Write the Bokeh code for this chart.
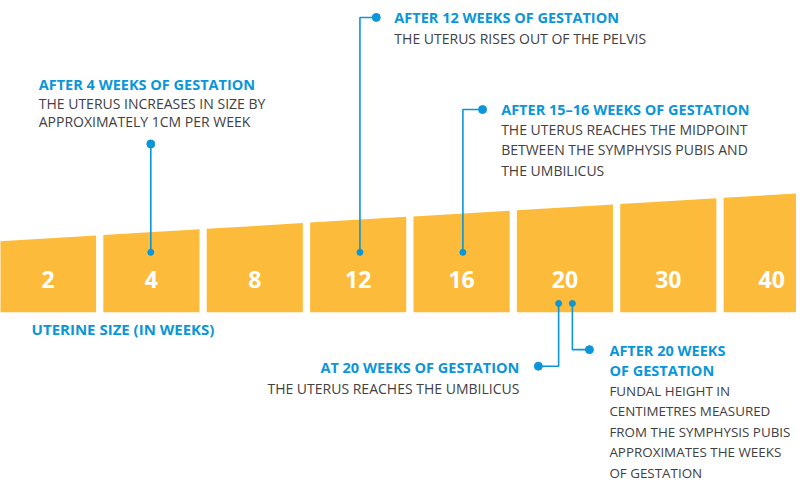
from bokeh.plotting import figure
from bokeh.models import Range1d
from bokeh.core.properties import value
from bokeh.embed import file_html
from bokeh.resources import INLINE

# ---------------- data ----------------
weeks = ["2", "4", "8", "12", "16", "20", "30", "40"]
bar_index = list(range(len(weeks)))
bar_top_left = [74.3, 80.8, 87.3, 93.8, 100.3, 106.7, 113.2, 119.7]
bar_top_right = [80.3, 86.8, 93.3, 99.8, 106.3, 112.8, 119.3, 125.8]
bar_width = 0.93
label_height = 34.3

axis_title = "UTERINE SIZE (IN WEEKS)"

ann_heads = [
    ["AFTER 4 WEEKS OF GESTATION"],
    ["AFTER 12 WEEKS OF GESTATION"],
    ["AFTER 15\u201316 WEEKS OF GESTATION"],
    ["AT 20 WEEKS OF GESTATION"],
    ["AFTER 20 WEEKS", "OF GESTATION"],
]
ann_bodies = [
    ["THE UTERUS INCREASES IN SIZE BY", "APPROXIMATELY 1CM PER WEEK"],
    ["THE UTERUS RISES OUT OF THE PELVIS"],
    ["THE UTERUS REACHES THE MIDPOINT", "BETWEEN THE SYMPHYSIS PUBIS AND", "THE UMBILICUS"],
    ["THE UTERUS REACHES THE UMBILICUS"],
    ["FUNDAL HEIGHT IN", "CENTIMETRES MEASURED", "FROM THE SYMPHYSIS PUBIS",
     "APPROXIMATES THE WEEKS", "OF GESTATION"],
]
# connector paths (bar index units, height units): first point sits on the bar
ann_path_x = [
    [0.994, 0.994],
    [3.017, 3.017, 3.175],
    [4.013, 4.013, 4.203],
    [4.939, 4.939, 4.743],
    [5.072, 5.072, 5.237],
]
ann_path_y = [
    [62.7, 176.0],
    [62.7, 308.3, 308.3],
    [62.7, 212.0, 212.0],
    [9.3, -56.3, -56.3],
    [9.3, -39.0, -39.0],
]
ann_text_x = [-0.09, 3.35, 4.383, 4.559, 5.43]
ann_text_y = [238.0, 308.5, 212.3, -57.3, -39.7]
ann_align = ["left", "left", "left", "right", "left"]
ann_spacing = [19.5, 22.0, 21.2, 22.7, 21.3]
ann_body_size = ["14px", "14px", "14px", "14px", "13.4px"]

# ---------------- style ----------------
BAR = "#FDBB3B"
BLUE = "#0A96D8"
DARK = "#414042"
FONT = value("Open Sans")

p = figure(width=796, height=484, x_range=Range1d(-0.46, 7.24),
           y_range=Range1d(-180, 326), output_backend="svg",
           toolbar_location=None, min_border=0)
p.axis.visible = False
p.grid.visible = False
p.outline_line_color = None
p.background_fill_color = "white"
p.border_fill_color = "white"

# bars (trapezoids with a sloped top)
xs, ys = [], []
for i, tl, tr in zip(bar_index, bar_top_left, bar_top_right):
    l, r = i - bar_width / 2, i + bar_width / 2
    xs.append([l, r, r, l])
    ys.append([0, 0, tr, tl])
p.patches(xs, ys, fill_color=BAR, line_color=None)

p.text(x=bar_index, y=[label_height] * len(weeks), text=weeks,
       text_font=FONT, text_font_style="bold", text_font_size="23px",
       text_color="white", text_align="center", text_baseline="middle")

p.text(x=[-0.159], y=[-17.3], text=[axis_title], text_font=FONT,
       text_font_style="bold", text_font_size="15px", text_color=BLUE,
       text_align="left", text_baseline="middle")

# connectors
p.multi_line(ann_path_x, ann_path_y, line_color=BLUE, line_width=1.6)
p.scatter([px[0] for px in ann_path_x], [py[0] for py in ann_path_y],
          size=6, color=BLUE)
p.scatter([px[-1] for px in ann_path_x], [py[-1] for py in ann_path_y],
          size=8, color=BLUE)

# annotation texts
for heads, bodies, tx, ty, al, sp, bs in zip(ann_heads, ann_bodies, ann_text_x,
                                             ann_text_y, ann_align, ann_spacing,
                                             ann_body_size):
    hy = [ty - k * sp for k in range(len(heads))]
    p.text(x=[tx] * len(heads), y=hy, text=heads, text_font=FONT,
           text_font_style="bold", text_font_size="14.5px", text_color=BLUE,
           text_align=al, text_baseline="middle")
    by = [ty - (len(heads) + k) * sp for k in range(len(bodies))]
    p.text(x=[tx] * len(bodies), y=by, text=bodies, text_font=FONT,
           text_font_size=bs, text_color=DARK,
           text_align=al, text_baseline="middle")

open("out.html", "w").write(file_html(p, INLINE))
